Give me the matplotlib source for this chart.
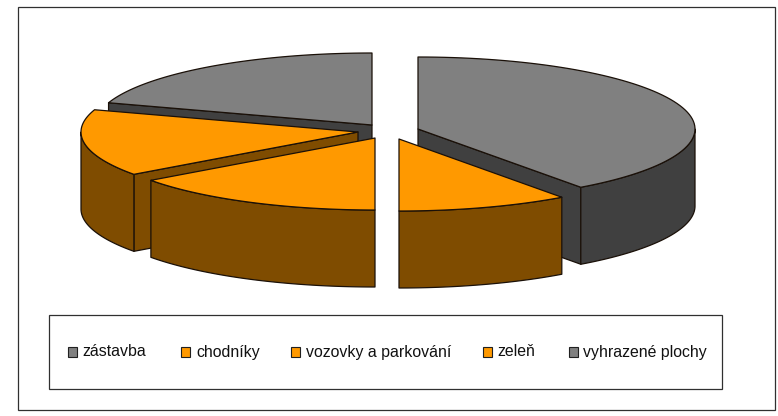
import matplotlib
matplotlib.use("Agg")
import matplotlib.pyplot as plt
from matplotlib.patches import Polygon, Rectangle
import numpy as np

# land use shares in percent
labels = ["zástavba", "chodníky", "vozovky a parkování", "zeleň", "vyhrazené plochy"]
shares = [40, 10, 15, 15, 20]
top_colors = ["#808080", "#FF9900", "#FF9900", "#FF9900", "#808080"]
side_colors = ["#404040", "#7F4C00", "#7F4C00", "#7F4C00", "#404040"]
# apex of every exploded slice on the picture
apex_x = [418, 399, 375, 358, 372]
apex_y = [129, 139, 138, 132, 125]

RX = 277
RY = 72
DEPTH = 77
EDGE = "#1a1008"

plt.rcParams["font.family"] = ["Liberation Sans", "DejaVu Sans"]
fig = plt.figure(figsize=(7.78, 4.16), dpi=100)
ax = fig.add_axes([0, 0, 1, 1])
ax.set_xlim(0, 778)
ax.set_ylim(416, 0)
ax.axis("off")

# outer frame
ax.add_patch(Rectangle((18, 7), 757, 403, fc="white", ec="#303030", lw=0.9))


def rim(cx, cy, t0, t1, n=80):
    # t is clockwise from 12 o'clock, in degrees
    t = np.radians(np.linspace(t0, t1, n))
    return np.column_stack([cx + RX * np.sin(t), cy - RY * np.cos(t)])


def add(pts, color, z):
    ax.add_patch(Polygon(pts, closed=True, fc=color, ec=EDGE, lw=0.9, joinstyle="round", zorder=z))


bounds = np.cumsum([0] + shares) * 3.6
# back to front
order = [4, 0, 3, 2, 1]
for z, i in enumerate(order):
    cx, cy = apex_x[i], apex_y[i]
    t0, t1 = bounds[i], bounds[i + 1]
    base = z * 10 + 2
    down = np.array([0, DEPTH])
    apex = np.array([cx, cy])
    # cut faces, only those turned to the viewer
    if np.sin(np.radians(t0)) < -1e-6:
        end = rim(cx, cy, t0, t0, 1)[0]
        add([apex, end, end + down, apex + down], side_colors[i], base)
    if np.sin(np.radians(t1)) > 1e-6:
        end = rim(cx, cy, t1, t1, 1)[0]
        add([apex, end, end + down, apex + down], side_colors[i], base)
    # outer wall, only the part facing the viewer
    a, b = max(t0, 90), min(t1, 270)
    if a < b:
        arc = rim(cx, cy, a, b)
        add(np.vstack([arc, (arc + down)[::-1]]), side_colors[i], base + 1)
    # top
    add(np.vstack([apex, rim(cx, cy, t0, t1)]), top_colors[i], base + 2)

# legend
ax.add_patch(Rectangle((49, 315), 673, 74, fc="white", ec="#303030", lw=0.9, zorder=100))
marker_x = [68, 181, 291, 483, 569]
text_x = [82, 196, 306, 497, 583]
for i, lab in enumerate(labels):
    ax.add_patch(Rectangle((marker_x[i], 347), 9, 10, fc=top_colors[i], ec="#202020", lw=0.8, zorder=101))
    ax.text(text_x[i], 352, lab, fontsize=11.4, color="#111111", va="center", ha="left", zorder=101)

fig.savefig("out.png", dpi=100)
